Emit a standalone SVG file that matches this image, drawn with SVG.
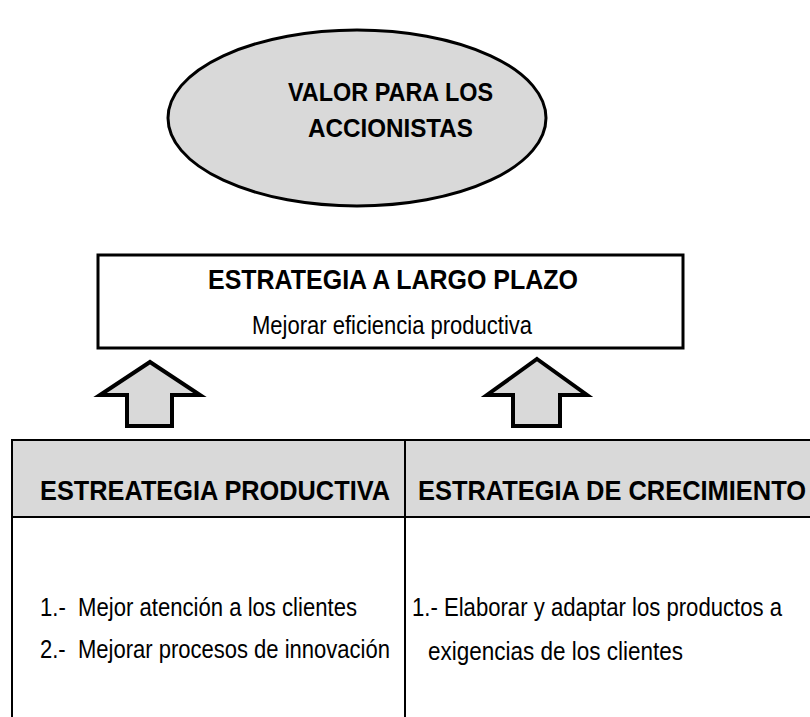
<svg xmlns="http://www.w3.org/2000/svg" width="810" height="717" viewBox="0 0 810 717">
<style>
.bold{font-family:"Liberation Sans Narrow","Liberation Sans",Arial,sans-serif;font-weight:bold;fill:#000}
.reg{font-family:"Liberation Sans Narrow","Liberation Sans",Arial,sans-serif;fill:#000}
.shape{stroke:#000;stroke-width:3}
.arrow{stroke:#000;stroke-width:4;fill:#d9d9d9;stroke-linejoin:miter}
.gray{fill:#d9d9d9}
.line{stroke:#000;stroke-width:2;fill:none}
</style>
<rect width="810" height="717" fill="#fff"/>
<g id="valor">
<ellipse class="shape gray" cx="357" cy="118" rx="189" ry="88" stroke-width="3.5"/>
<text class="bold" x="288" y="101" font-size="25" textLength="205" lengthAdjust="spacingAndGlyphs">VALOR PARA LOS</text>
<text class="bold" x="308" y="137" font-size="25" textLength="165" lengthAdjust="spacingAndGlyphs">ACCIONISTAS</text>
</g>
<g id="estrategia-largo-plazo">
<rect class="shape" fill="#fff" x="98" y="255" width="585" height="93"/>
<text class="bold" x="208" y="289" font-size="28" textLength="370" lengthAdjust="spacingAndGlyphs">ESTRATEGIA A LARGO PLAZO</text>
<text class="reg" x="252" y="334" font-size="25" textLength="280" lengthAdjust="spacingAndGlyphs">Mejorar eficiencia productiva</text>
</g>
<g id="connectors">
<polygon class="arrow" points="150,362 200,395 172,395 172,426 127,426 127,395 100,395"/>
<polygon class="arrow" points="537,359 587,395 560,395 560,426 513,426 513,395 487,395"/>
</g>
<g id="tabla">
<rect class="gray" x="12" y="440" width="810" height="77"/>
<line class="line" x1="11" y1="440" x2="810" y2="440"/>
<line class="line" x1="11" y1="517" x2="810" y2="517"/>
<line class="line" x1="12" y1="440" x2="12" y2="717"/>
<line class="line" x1="405" y1="440" x2="405" y2="717"/>
</g>
<g id="estrategia-productiva">
<text class="bold" x="40" y="500" font-size="28" textLength="350" lengthAdjust="spacingAndGlyphs">ESTREATEGIA PRODUCTIVA</text>
<text class="reg" x="40" y="616" font-size="25" textLength="317" lengthAdjust="spacingAndGlyphs" xml:space="preserve">1.-  Mejor atención a los clientes</text>
<text class="reg" x="40" y="658" font-size="25" textLength="350" lengthAdjust="spacingAndGlyphs" xml:space="preserve">2.-  Mejorar procesos de innovación</text>
</g>
<g id="estrategia-crecimiento">
<text class="bold" x="418" y="500" font-size="28" textLength="388" lengthAdjust="spacingAndGlyphs">ESTRATEGIA DE CRECIMIENTO</text>
<text class="reg" x="412" y="616" font-size="25" textLength="370" lengthAdjust="spacingAndGlyphs">1.- Elaborar y adaptar los productos a</text>
<text class="reg" x="428" y="660" font-size="25" textLength="255" lengthAdjust="spacingAndGlyphs">exigencias de los clientes</text>
</g>
</svg>
